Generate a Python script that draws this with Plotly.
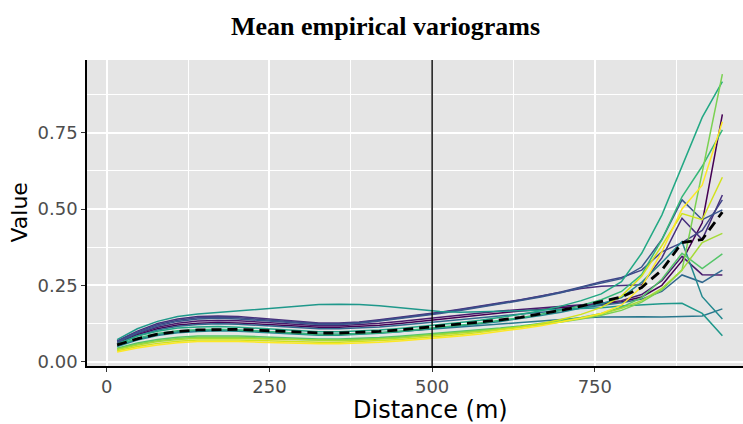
import plotly.graph_objects as go

# lag distances (m)
distance = [16, 47, 78, 109, 140, 171, 202, 233, 264, 295, 326, 357, 388, 419, 450,
            481, 512, 543, 574, 605, 636, 667, 698, 729, 760, 791, 822, 853, 884, 915, 946]

# individual empirical variograms
v01 = [0.060, 0.088, 0.108, 0.120, 0.126, 0.128, 0.127, 0.124, 0.120, 0.116, 0.113, 0.113, 0.115, 0.119, 0.125, 0.132,
       0.140, 0.147, 0.154, 0.161, 0.166, 0.171, 0.176, 0.182, 0.188, 0.196, 0.212, 0.250, 0.330, 0.455, 0.810]
v02 = [0.065, 0.092, 0.113, 0.126, 0.133, 0.135, 0.134, 0.130, 0.125, 0.121, 0.118, 0.118, 0.121, 0.126, 0.132, 0.139,
       0.146, 0.153, 0.160, 0.166, 0.171, 0.176, 0.181, 0.186, 0.191, 0.200, 0.220, 0.265, 0.345, 0.285, 0.284]
v03 = [0.068, 0.100, 0.125, 0.140, 0.148, 0.150, 0.148, 0.143, 0.137, 0.131, 0.127, 0.127, 0.130, 0.137, 0.145, 0.153,
       0.162, 0.172, 0.182, 0.192, 0.203, 0.215, 0.228, 0.240, 0.247, 0.249, 0.252, 0.340, 0.470, 0.400, 0.546]
v04 = [0.064, 0.094, 0.117, 0.132, 0.140, 0.142, 0.140, 0.136, 0.131, 0.126, 0.122, 0.122, 0.126, 0.133, 0.141, 0.149,
       0.158, 0.168, 0.178, 0.189, 0.200, 0.212, 0.226, 0.243, 0.258, 0.272, 0.310, 0.400, 0.530, 0.465, 0.497]
v05 = [0.066, 0.097, 0.121, 0.136, 0.144, 0.146, 0.144, 0.139, 0.133, 0.128, 0.124, 0.124, 0.128, 0.135, 0.143, 0.151,
       0.160, 0.170, 0.180, 0.191, 0.202, 0.214, 0.228, 0.245, 0.262, 0.276, 0.300, 0.360, 0.390, 0.430, 0.530]
v06 = [0.058, 0.085, 0.104, 0.116, 0.122, 0.124, 0.123, 0.119, 0.115, 0.111, 0.108, 0.108, 0.110, 0.114, 0.119, 0.125,
       0.131, 0.137, 0.143, 0.149, 0.155, 0.161, 0.168, 0.176, 0.184, 0.193, 0.205, 0.230, 0.284, 0.260, 0.300]
v07 = [0.052, 0.074, 0.089, 0.098, 0.102, 0.104, 0.103, 0.100, 0.096, 0.093, 0.090, 0.090, 0.092, 0.095, 0.099, 0.104,
       0.109, 0.114, 0.119, 0.124, 0.129, 0.134, 0.139, 0.143, 0.146, 0.147, 0.147, 0.146, 0.147, 0.150, 0.173]
v08 = [0.050, 0.071, 0.086, 0.095, 0.099, 0.101, 0.100, 0.097, 0.093, 0.090, 0.087, 0.087, 0.089, 0.093, 0.098, 0.104,
       0.110, 0.117, 0.124, 0.132, 0.141, 0.151, 0.162, 0.175, 0.190, 0.210, 0.260, 0.325, 0.393, 0.213, 0.140]
v09 = [0.072, 0.108, 0.132, 0.148, 0.156, 0.161, 0.166, 0.172, 0.178, 0.183, 0.187, 0.188, 0.187, 0.183, 0.177, 0.170,
       0.164, 0.162, 0.163, 0.165, 0.167, 0.169, 0.171, 0.174, 0.177, 0.182, 0.186, 0.190, 0.191, 0.158, 0.085]
v10 = [0.058, 0.084, 0.100, 0.110, 0.114, 0.115, 0.113, 0.109, 0.105, 0.101, 0.098, 0.098, 0.100, 0.104, 0.109, 0.115,
       0.121, 0.128, 0.136, 0.145, 0.155, 0.167, 0.182, 0.200, 0.222, 0.262, 0.355, 0.480, 0.640, 0.800, 0.917]
v11 = [0.054, 0.077, 0.092, 0.101, 0.105, 0.106, 0.104, 0.100, 0.096, 0.092, 0.089, 0.089, 0.091, 0.095, 0.100, 0.106,
       0.112, 0.119, 0.127, 0.135, 0.144, 0.155, 0.168, 0.184, 0.203, 0.230, 0.285, 0.400, 0.540, 0.640, 0.759]
v12 = [0.044, 0.061, 0.073, 0.080, 0.084, 0.085, 0.084, 0.082, 0.079, 0.076, 0.074, 0.074, 0.076, 0.079, 0.083, 0.088,
       0.093, 0.098, 0.104, 0.110, 0.117, 0.125, 0.134, 0.145, 0.158, 0.178, 0.210, 0.270, 0.355, 0.305, 0.353]
v13 = [0.042, 0.058, 0.069, 0.076, 0.080, 0.081, 0.080, 0.078, 0.075, 0.073, 0.071, 0.071, 0.073, 0.076, 0.080, 0.085,
       0.090, 0.096, 0.102, 0.108, 0.115, 0.122, 0.130, 0.140, 0.152, 0.168, 0.195, 0.235, 0.300, 0.620, 0.942]
v14 = [0.040, 0.055, 0.066, 0.073, 0.077, 0.078, 0.077, 0.075, 0.073, 0.071, 0.069, 0.069, 0.071, 0.074, 0.078, 0.083,
       0.088, 0.094, 0.100, 0.107, 0.114, 0.122, 0.131, 0.142, 0.156, 0.175, 0.200, 0.240, 0.300, 0.390, 0.420]
v15 = [0.036, 0.050, 0.060, 0.067, 0.071, 0.072, 0.071, 0.069, 0.067, 0.065, 0.064, 0.064, 0.066, 0.069, 0.073, 0.078,
       0.083, 0.089, 0.096, 0.104, 0.113, 0.124, 0.138, 0.155, 0.178, 0.215, 0.280, 0.380, 0.485, 0.465, 0.604]
v16 = [0.032, 0.045, 0.055, 0.062, 0.066, 0.067, 0.066, 0.064, 0.062, 0.060, 0.059, 0.059, 0.061, 0.064, 0.068, 0.073,
       0.078, 0.084, 0.091, 0.099, 0.108, 0.118, 0.130, 0.143, 0.158, 0.185, 0.245, 0.360, 0.500, 0.578, 0.786]

# mean empirical variogram
mean_vals = [0.055, 0.075, 0.090, 0.099, 0.104, 0.106, 0.106, 0.103, 0.100, 0.097, 0.094, 0.094, 0.096, 0.099, 0.104, 0.110,
             0.117, 0.123, 0.130, 0.137, 0.145, 0.157, 0.168, 0.182, 0.197, 0.212, 0.243, 0.300, 0.390, 0.400, 0.490]

series = [v01, v02, v03, v05, v04, v06, v07, v08, v09, v10, v11, v12, v13, v14, v15, v16]
colors = ["#440154", "#481A6C", "#472F7D", "#414487", "#39568C", "#31688E", "#2A788E", "#23888E",
          "#1F988B", "#22A884", "#35B779", "#54C568", "#7AD151", "#A5DB36", "#D2E21B", "#FDE725"]

x_ticks = [0, 250, 500, 750]
x_minor = [125, 375, 625, 875]
y_ticks = [0.0, 0.25, 0.5, 0.75]
y_tick_text = ["0.00", "0.25", "0.50", "0.75"]
y_minor = [0.125, 0.375, 0.625, 0.875]

fig = go.Figure()
for vals, col in zip(series, colors):
    fig.add_trace(go.Scatter(x=distance, y=vals, mode="lines",
                             line=dict(color=col, width=1.5), showlegend=False, hoverinfo="skip"))
fig.add_trace(go.Scatter(x=distance, y=mean_vals, mode="lines",
                         line=dict(color="black", width=2.8, dash="10px,6px"), showlegend=False))

fig.add_vline(x=500, line=dict(color="black", width=1.4))

axis_common = dict(showline=True, linecolor="black", linewidth=1.5, ticks="outside", ticklen=4,
                   tickcolor="#333333", tickwidth=1.1, gridcolor="white", gridwidth=1.5,
                   zeroline=False, tickfont=dict(family="DejaVu Sans", size=18, color="#4D4D4D"))

fig.update_xaxes(range=[-30.3, 977.7], tickvals=x_ticks, ticktext=[str(t) for t in x_ticks],
                 minor=dict(tickvals=x_minor, showgrid=True, gridcolor="white", gridwidth=0.7, ticklen=0),
                 **axis_common)
fig.update_yaxes(range=[-0.0141, 0.988], tickvals=y_ticks, ticktext=y_tick_text,
                 minor=dict(tickvals=y_minor, showgrid=True, gridcolor="white", gridwidth=0.7, ticklen=0),
                 **axis_common)

fig.update_layout(
    width=743, height=424,
    margin=dict(l=87, r=0, t=60, b=58),
    plot_bgcolor="#E5E5E5", paper_bgcolor="white",
    annotations=[
        dict(text="<b>Mean empirical variograms</b>", x=0.455, y=1.108, xref="paper", yref="paper",
             xanchor="center", yanchor="middle", showarrow=False,
             font=dict(family="Liberation Serif", size=26, color="black")),
        dict(text="Distance (m)", x=0.524, y=-0.144, xref="paper", yref="paper",
             xanchor="center", yanchor="middle", showarrow=False,
             font=dict(family="DejaVu Sans", size=24, color="black")),
        dict(text="Value", x=-0.1044, y=0.5, xref="paper", yref="paper", textangle=-90,
             xanchor="center", yanchor="middle", showarrow=False,
             font=dict(family="DejaVu Sans", size=22, color="black")),
    ],
)

fig.write_html("out.html")
